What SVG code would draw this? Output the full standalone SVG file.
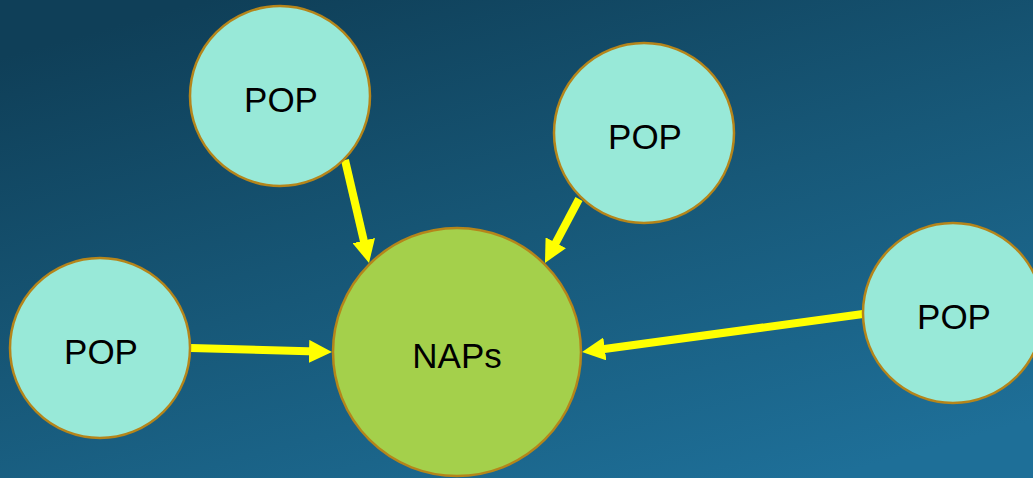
<svg xmlns="http://www.w3.org/2000/svg" width="1033" height="478" viewBox="0 0 1033 478">
<defs>
<linearGradient id="bg" x1="0.2" y1="0" x2="0.8" y2="1">
<stop offset="0" stop-color="#0F3F58"/>
<stop offset="0.5" stop-color="#175878"/>
<stop offset="1" stop-color="#1E6F98"/>
</linearGradient>
<marker id="ah" markerUnits="userSpaceOnUse" markerWidth="23" markerHeight="23" refX="8" refY="11.5" orient="auto" viewBox="0 0 23 23">
<path d="M0,0 L23,11.5 L0,23 z" fill="#FFFF00"/>
</marker>
<style>
.pop{fill:#98E9D8;stroke:#B5851A;stroke-width:2.5}
.nap{fill:#A4D04B;stroke:#B5851A;stroke-width:2.5}
.lbl{font-family:"Liberation Sans",Arial,sans-serif;font-size:35px;fill:#000;text-anchor:middle}
.conn{stroke:#FFFF00;stroke-width:8;fill:none;marker-end:url(#ah)}
</style>
</defs>
<rect width="1033" height="478" fill="url(#bg)"/>
<g id="connectors">
<line class="conn" x1="345" y1="160" x2="365.6" y2="248.4"/>
<line class="conn" x1="191" y1="348" x2="317" y2="351.6"/>
<line class="conn" x1="579" y1="199" x2="552" y2="249.8"/>
<line class="conn" x1="863" y1="314" x2="596.9" y2="350"/>
</g>
<g id="naps">
<circle class="nap" cx="457" cy="352" r="124"/>
<text class="lbl" x="457" y="368">NAPs</text>
</g>
<g id="pop-top-left">
<circle class="pop" cx="280" cy="96" r="90"/>
<text class="lbl" x="281" y="112">POP</text>
</g>
<g id="pop-top-right">
<circle class="pop" cx="644" cy="133" r="90"/>
<text class="lbl" x="645" y="149">POP</text>
</g>
<g id="pop-left">
<circle class="pop" cx="100" cy="348" r="90"/>
<text class="lbl" x="101" y="364">POP</text>
</g>
<g id="pop-right">
<circle class="pop" cx="953" cy="313" r="90"/>
<text class="lbl" x="954" y="329">POP</text>
</g>
</svg>
